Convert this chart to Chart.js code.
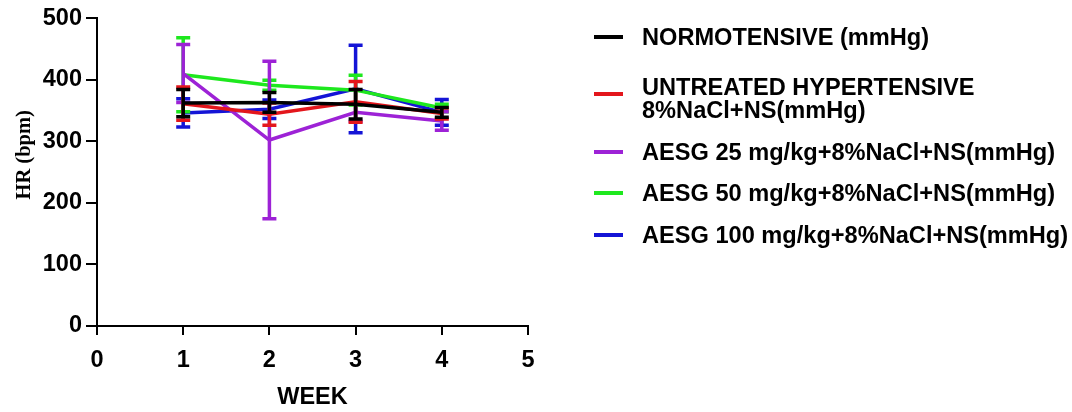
<!DOCTYPE html>
<html>
<head>
<meta charset="utf-8">
<script src="https://cdn.jsdelivr.net/npm/chart.js@4.4.1/dist/chart.umd.min.js"></script>
<style>
  html, body { margin: 0; padding: 0; background: #fff; }
  #wrap { position: relative; width: 1072px; height: 412px; overflow: hidden; }
  #c { position: absolute; left: 0; top: 0; }
  #legend { position: absolute; left: 0; top: 0; width: 1072px; height: 412px; pointer-events: none;
    font-family: 'Liberation Sans', Arial, sans-serif; font-weight: bold; font-size: 23.6px; color: #000; }
  .item { position: absolute; left: 594px; }
  .mk { position: absolute; left: 0; width: 29px; height: 4px; }
  .tx { position: absolute; left: 48px; white-space: nowrap; line-height: 23px; }
</style>
</head>
<body>
<div id="wrap">
  <canvas id="c" width="1072" height="412"></canvas>
  <div id="legend"></div>
</div>
<script>
const weeks = [1, 2, 3, 4];
const seriesLabels = [
  ["NORMOTENSIVE (mmHg)"],
  ["UNTREATED HYPERTENSIVE", "8%NaCl+NS(mmHg)"],
  ["AESG 25 mg/kg+8%NaCl+NS(mmHg)"],
  ["AESG 50 mg/kg+8%NaCl+NS(mmHg)"],
  ["AESG 100 mg/kg+8%NaCl+NS(mmHg)"]
];
const normotensive = [362, 363, 360, 347];
const normotensiveErr = [22, 16, 24, 8];
const untreated = [361, 344, 364, 345];
const untreatedErr = [27, 18, 33, 9];
const aesg25 = [410, 302, 347, 333];
const aesg25Err = [47, 128, 15, 15];
const aesg50 = [408, 391, 383, 354];
const aesg50Err = [60, 8, 24, 6];
const aesg100 = [346, 352, 385, 347];
const aesg100Err = [23, 15, 71, 21];
const yTicks = [0, 100, 200, 300, 400, 500];
const xTicks = [0, 1, 2, 3, 4, 5];
const yTitle = 'HR (bpm)';
const xTitle = 'WEEK';

const colors = ['#000000', '#e3161c', '#9d22d6', '#1ee81e', '#1414d6'];
const means = [normotensive, untreated, aesg25, aesg50, aesg100];
const errs = [normotensiveErr, untreatedErr, aesg25Err, aesg50Err, aesg100Err];

const datasets = means.map((m, k) => ({
  label: seriesLabels[k].join(' '),
  data: weeks.map((w, i) => ({ x: w, y: m[i] })),
  errors: errs[k],
  borderColor: colors[k],
  backgroundColor: colors[k],
  borderWidth: 3.5,
  pointRadius: 0,
  tension: 0,
  fill: false
}));

const errorBars = {
  id: 'errorBars',
  afterDatasetDraw(chart, args) {
    const ds = chart.data.datasets[args.index];
    const xs = chart.scales.x, ys = chart.scales.y;
    const ctx = chart.ctx;
    ctx.save();
    ctx.strokeStyle = ds.borderColor;
    ctx.lineWidth = 3.5;
    ctx.lineCap = 'butt';
    ds.data.forEach((p, i) => {
      const e = ds.errors[i];
      const x = xs.getPixelForValue(p.x);
      const yt = ys.getPixelForValue(p.y + e);
      const yb = ys.getPixelForValue(p.y - e);
      ctx.beginPath();
      ctx.moveTo(x, yt); ctx.lineTo(x, yb);
      ctx.moveTo(x - 7, yt); ctx.lineTo(x + 7, yt);
      ctx.moveTo(x - 7, yb); ctx.lineTo(x + 7, yb);
      ctx.stroke();
    });
    ctx.restore();
  }
};

// y-axis title drawn slightly above the axis centre, as in the reference
const yTitlePlugin = {
  id: 'yTitlePlugin',
  afterDraw(chart) {
    const ys = chart.scales.y;
    const ctx = chart.ctx;
    ctx.save();
    ctx.translate(25, ys.getPixelForValue(278));
    ctx.rotate(-Math.PI / 2);
    ctx.font = "bold 20.5px 'Liberation Serif', 'Times New Roman', serif";
    ctx.fillStyle = '#000';
    ctx.textAlign = 'center';
    ctx.textBaseline = 'middle';
    ctx.fillText(yTitle, 0, 0);
    ctx.restore();
  }
};

const tickFont = { family: "'Liberation Sans', Arial, sans-serif", weight: 'bold', size: 23.5 };

new Chart(document.getElementById('c'), {
  type: 'line',
  data: { datasets },
  plugins: [errorBars, yTitlePlugin],
  options: {
    responsive: false,
    animation: false,
    devicePixelRatio: 1,
    layout: { padding: { top: 15, right: 544, left: 0, bottom: 0 } },
    plugins: { legend: { display: false }, tooltip: { enabled: false } },
    scales: {
      x: {
        type: 'linear', min: 0, max: 5,
        afterBuildTicks: s => { s.ticks = xTicks.map(v => ({ value: v })); },
        afterFit: s => { s.height = 86; },
        ticks: { color: '#000', font: tickFont, padding: 11, maxRotation: 0 },
        grid: { display: true, drawOnChartArea: false, drawTicks: true, tickLength: 9, color: '#000', lineWidth: 2 },
        border: { display: true, color: '#000', width: 2 },
        title: { display: true, text: xTitle, color: '#000',
          font: { family: "'Liberation Sans', Arial, sans-serif", weight: 'bold', size: 23.5 },
          padding: { top: 0, bottom: 0 } }
      },
      y: {
        type: 'linear', min: 0, max: 500,
        afterBuildTicks: s => { s.ticks = yTicks.map(v => ({ value: v })); },
        afterFit: s => { s.width = 97; },
        ticks: { color: '#000', font: tickFont, padding: 4 },
        grid: { display: true, drawOnChartArea: false, drawTicks: true, tickLength: 11, color: '#000', lineWidth: 2 },
        border: { display: true, color: '#000', width: 2 },
        title: { display: false }
      }
    }
  }
});

// HTML legend built from the series labels and colours
const legendTops = [37, 94, 152, 193, 235];
const textShift = [0, 5, 0, 0, 0];
const legend = document.getElementById('legend');
seriesLabels.forEach((lines, k) => {
  const item = document.createElement('div');
  item.className = 'item';
  item.style.top = legendTops[k] + 'px';
  const mk = document.createElement('div');
  mk.className = 'mk';
  mk.style.top = '-2px';
  mk.style.background = colors[k];
  const tx = document.createElement('div');
  tx.className = 'tx';
  tx.style.top = (-(lines.length * 23) / 2 + textShift[k]) + 'px';
  tx.innerHTML = lines.map(l => l.replace(/&/g, '&amp;').replace(/</g, '&lt;')).join('<br>');
  item.appendChild(mk);
  item.appendChild(tx);
  legend.appendChild(item);
});
</script>
</body>
</html>
